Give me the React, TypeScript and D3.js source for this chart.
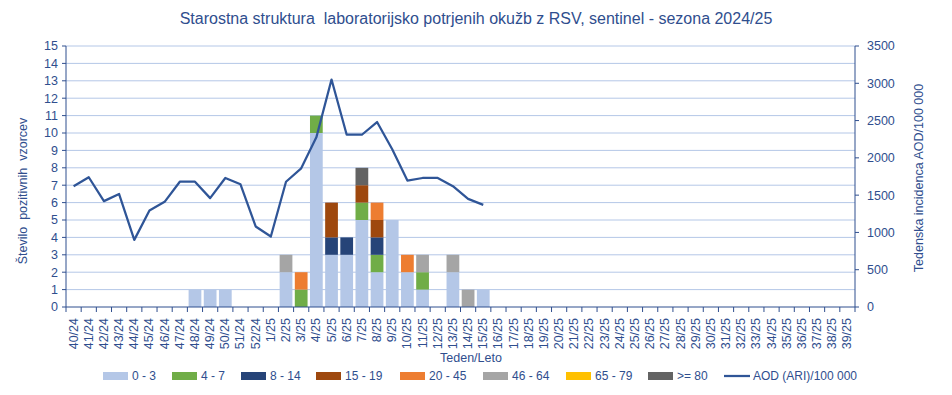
import React from 'react';
import * as d3 from 'd3';

// weeks 40/24 .. 39/25
const weeks: string[] = [
  ...d3.range(40, 53).map(w => `${w}/24`),
  ...d3.range(1, 40).map(w => `${w}/25`),
];

const ageGroups = ['0 - 3', '4 - 7', '8 - 14', '15 - 19', '20 - 45', '46 - 64', '65 - 79', '>= 80'];
const ageColors = ['#B4C7E7', '#70AD47', '#264478', '#9E480E', '#ED7D31', '#A5A5A5', '#FFC000', '#636363'];

// counts per week, one array per age group (only non-zero weeks listed)
const age0_3: Record<string, number> = { '48/24': 1, '49/24': 1, '50/24': 1, '2/25': 2, '4/25': 10, '5/25': 3, '6/25': 3, '7/25': 5, '8/25': 2, '9/25': 5, '10/25': 2, '11/25': 1, '13/25': 2, '15/25': 1 };
const age4_7: Record<string, number> = { '3/25': 1, '4/25': 1, '7/25': 1, '8/25': 1, '11/25': 1 };
const age8_14: Record<string, number> = { '5/25': 1, '6/25': 1, '8/25': 1 };
const age15_19: Record<string, number> = { '5/25': 2, '7/25': 1, '8/25': 1 };
const age20_45: Record<string, number> = { '3/25': 1, '8/25': 1, '10/25': 1 };
const age46_64: Record<string, number> = { '2/25': 1, '11/25': 1, '13/25': 1, '14/25': 1 };
const age65_79: Record<string, number> = {};
const age80: Record<string, number> = { '7/25': 1 };
const ageSeries = [age0_3, age4_7, age8_14, age15_19, age20_45, age46_64, age65_79, age80];

// AOD (ARI) incidence / 100 000, weeks 40/24 .. 15/25
const aodWeeks = weeks.slice(0, 28);
const aodValues = [1620, 1740, 1420, 1515, 900, 1295, 1410, 1680, 1680, 1460, 1730, 1645, 1080, 945, 1680, 1860, 2275, 3050, 2310, 2310, 2480, 2115, 1695, 1730, 1730, 1620, 1450, 1370];

const leftTicks = d3.range(0, 16);
const rightTicks = d3.range(0, 3501, 500);

const W = 952;
const H = 395;
const m = { left: 66, right: 855, top: 46, bottom: 307 };
const textColor = '#2F4E8E';
const axisColor = '#2F4E8E';
const font = '"Liberation Sans", Arial, sans-serif';

const App: React.FC = () => {
  const x = d3.scaleBand<string>().domain(weeks).range([m.left, m.right]).paddingInner(0.16).paddingOuter(0.08);
  const yL = d3.scaleLinear().domain([0, 15]).range([m.bottom, m.top]);
  const yR = d3.scaleLinear().domain([0, 3500]).range([m.bottom, m.top]);

  const rows = weeks.map(w => {
    const r: Record<string, number | string> = { week: w };
    ageGroups.forEach((g, i) => { r[g] = ageSeries[i][w] ?? 0; });
    return r;
  });
  const stacked = d3.stack<Record<string, number | string>>().keys(ageGroups)(rows as any);

  const line = d3.line<number>()
    .x((_, i) => (x(aodWeeks[i]) as number) + x.bandwidth() / 2)
    .y(d => yR(d));

  const boundaryX = (i: number) => m.left + (i * (m.right - m.left)) / weeks.length;

  const legendX = [103, 172, 241, 316, 400, 483, 566, 648];

  return (
    <>
      <style>{`body{margin:0}`}</style>
      <svg width={W} height={H} style={{ display: 'block', fontFamily: font }}>
        <rect width={W} height={H} fill="#fff" />
        <text x={476} y={24} textAnchor="middle" fontSize={16} fill={textColor} style={{ whiteSpace: 'pre' }}>
          {'Starostna struktura  laboratorijsko potrjenih okužb z RSV, sentinel - sezona 2024/25'}
        </text>

        {/* grid */}
        {leftTicks.filter(t => t > 0).map(t => (
          <line key={`g${t}`} x1={m.left} x2={m.right} y1={yL(t)} y2={yL(t)} stroke="#B4C7E7" strokeWidth={1} />
        ))}

        {/* bars */}
        {stacked.map((s, si) => (
          <g key={s.key} fill={ageColors[si]}>
            {s.map((d, i) => d[1] > d[0] ? (
              <rect key={i} x={x(weeks[i])} width={x.bandwidth()} y={yL(d[1])} height={yL(d[0]) - yL(d[1])} />
            ) : null)}
          </g>
        ))}

        {/* AOD line */}
        <path d={line(aodValues) ?? ''} fill="none" stroke="#2F5597" strokeWidth={2.25} strokeLinejoin="round" />

        {/* axes */}
        <line x1={m.left} x2={m.left} y1={m.top} y2={m.bottom} stroke={axisColor} />
        <line x1={m.right} x2={m.right} y1={m.top} y2={m.bottom} stroke={axisColor} />
        <line x1={m.left} x2={m.right} y1={m.bottom} y2={m.bottom} stroke={axisColor} />
        {leftTicks.map(t => (
          <g key={`l${t}`}>
            <line x1={m.left - 4} x2={m.left} y1={yL(t)} y2={yL(t)} stroke={axisColor} />
            <text x={58} y={yL(t)} dy="0.35em" textAnchor="end" fontSize={12.5} fill={textColor}>{t}</text>
          </g>
        ))}
        {rightTicks.map(t => (
          <g key={`r${t}`}>
            <line x1={m.right} x2={m.right + 4} y1={yR(t)} y2={yR(t)} stroke={axisColor} />
            <text x={867} y={yR(t)} dy="0.35em" textAnchor="start" fontSize={12.5} fill={textColor}>{t}</text>
          </g>
        ))}
        {d3.range(0, weeks.length + 1).map(i => (
          <line key={`xt${i}`} x1={boundaryX(i)} x2={boundaryX(i)} y1={m.bottom} y2={m.bottom + 5} stroke={axisColor} />
        ))}
        {weeks.map(w => {
          const cx = (x(w) as number) + x.bandwidth() / 2;
          return (
            <text key={`xl${w}`} transform={`translate(${cx + 4},${318}) rotate(-90)`} textAnchor="end" fontSize={12.5} fill={textColor}>{w}</text>
          );
        })}

        {/* axis titles */}
        <text x={471} y={362} textAnchor="middle" fontSize={12.5} fill={textColor}>Teden/Leto</text>
        <text transform={`translate(27,191) rotate(-90)`} textAnchor="middle" fontSize={12.5} fill={textColor} style={{ whiteSpace: 'pre' }}>
          {'Število  pozitivnih  vzorcev'}
        </text>
        <text transform={`translate(923,178) rotate(-90)`} textAnchor="middle" fontSize={12.5} fill={textColor}>Tedenska incidenca AOD/100 000</text>

        {/* legend */}
        {ageGroups.map((g, i) => (
          <g key={`lg${g}`} transform={`translate(${legendX[i]},376)`}>
            <rect x={0} y={-4} width={25} height={8} fill={ageColors[i]} />
            <text x={29} y={0} dy="0.35em" fontSize={12} fill={textColor}>{g}</text>
          </g>
        ))}
        <g transform="translate(724,376)">
          <line x1={0} x2={26} y1={0} y2={0} stroke="#2F5597" strokeWidth={2.25} />
          <text x={29} y={0} dy="0.35em" fontSize={12} fill={textColor}>AOD (ARI)/100 000</text>
        </g>
      </svg>
    </>
  );
};

export default App;
